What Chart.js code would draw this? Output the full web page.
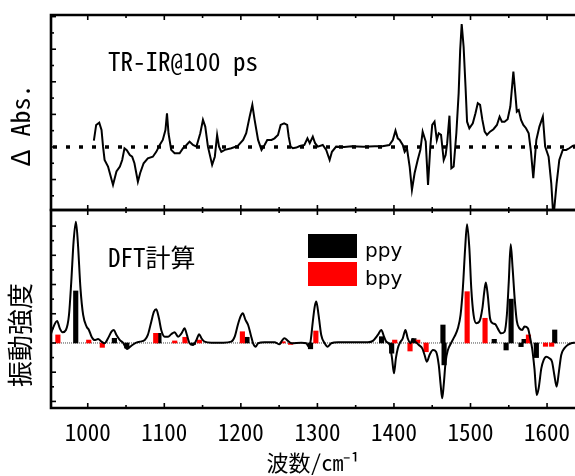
<!DOCTYPE html>
<html><head><meta charset="utf-8">
<script src="https://cdn.jsdelivr.net/npm/chart.js@4.4.1/dist/chart.umd.min.js"></script>
<style>
html,body{margin:0;padding:0;background:#fff;}
#wrap{position:relative;width:575px;height:476px;overflow:hidden;background:#fff;}
#c1{position:absolute;left:0;top:0;}
#c2{position:absolute;left:0;top:208px;}
</style></head><body>
<div id="wrap"><canvas id="c1" width="575" height="212"></canvas><canvas id="c2" width="575" height="268"></canvas></div>
<script>
// ---------- data ----------
const wavenumberTicks = [1000, 1100, 1200, 1300, 1400, 1500, 1600];
const wavenumberMinorTicks = [1050, 1150, 1250, 1350, 1450, 1550];
const absMajorTicks = [-2, 0, 2, 4, 6, 8];
const absMinorTicks = [-3, -1, 1, 3, 5, 7];
const intMajorTicks = [-4, -2, 0, 2, 4, 6, 8];
const intMinorTicks = [-3, -1, 1, 3, 5, 7];

// TR-IR @ 100 ps (experimental difference spectrum)
const trirX = [1008,1011,1015,1018,1020,1022,1026.5,1029.5,1033,1037.5,1042,1045,1048,1051,1055,1058,1061,1065.5,1068.5,1073,1078.5,1085,1089.5,1094,1098,1101.5,1103.5,1105.5,1109,1113.5,1120,1124.5,1129,1133,1137.5,1142,1147,1150.5,1153.5,1157,1162.5,1166,1169,1171.5,1174.5,1179,1187.5,1196,1203,1207,1211.5,1215,1218,1222.5,1227,1231,1234.5,1240,1244,1248.5,1252,1256.5,1260.5,1262.5,1265,1268,1272.5,1277,1283,1287,1290,1294,1297,1300.5,1307,1311.5,1316,1319,1324.5,1335,1345,1360,1375,1385,1394,1398.5,1402,1405,1407.5,1411.5,1414,1417,1420.5,1423.5,1427,1431,1434.5,1437.5,1441.5,1444.5,1447.5,1450,1453,1456,1458.5,1461.5,1465,1467.5,1469.5,1472.5,1475,1478,1481.5,1484.5,1486.5,1488.5,1491,1493.5,1495.5,1498.5,1503,1506.5,1509.5,1512.5,1515.5,1518.5,1521.5,1525.5,1530,1534.5,1538,1541,1544.5,1548.5,1552,1556,1558.5,1560.5,1563,1566,1569,1572.5,1576,1579,1582,1586,1590,1594.5,1597.5,1602,1605.5,1607.5,1609.5,1612.5,1616,1620.5,1625,1629,1633.5,1636.5];
const trirY = [0.39,1.35,1.49,1.04,0.02,-0.80,-1.20,-1.72,-2.33,-1.50,-1.20,-0.80,-0.08,-0.20,-0.50,-0.60,-1.00,-2.13,-1.60,-1.00,-0.70,-0.60,-0.30,0.12,0.43,1.04,2.07,0.84,-0.18,-0.39,-0.39,-0.08,0.12,0.33,0.12,0.02,0.84,1.66,1.25,0.02,-1.10,-0.60,0.74,0.02,-0.30,-0.18,-0.08,0.06,0.43,0.84,1.86,2.58,1.66,0.43,-0.18,0.12,0.43,0.43,0.53,0.74,1.35,1.45,1.35,0.63,0.02,-0.08,-0.04,0.06,0.12,0.53,0.23,0.63,0.23,0.02,0.12,-0.18,-0.80,-0.30,0.02,0.00,0.05,0.02,0.05,0.05,0.12,0.43,1.00,0.53,0.43,0.12,-0.30,-0.08,-1.20,-2.64,-1.60,-0.80,-0.18,0.94,0.33,-2.33,0.02,1.35,1.55,0.43,0.84,0.74,-0.80,-0.50,0.23,1.92,-1.31,-1.20,0.84,3.29,5.95,7.55,6.15,3.70,1.55,1.15,1.45,2.07,2.68,2.58,1.66,0.94,0.74,0.94,1.09,1.35,1.86,1.55,1.55,1.70,2.47,4.62,3.29,2.17,2.27,1.66,1.35,1.15,0.84,-0.30,-1.92,0.43,1.25,1.86,0.02,-0.60,-2.23,-3.76,-3.76,-2.23,-0.80,-0.18,-0.18,-0.08,0.06,0.10];

// DFT calculated spectrum (broadened)
const dftX = [950,954.5,960,963.5,967,971.5,975.5,978.5,981.5,984.5,987,990.5,994,998.5,1001.5,1005,1009,1013.5,1018,1022,1026.5,1031,1034,1037.5,1042,1046,1051.5,1055.5,1061.5,1068,1074.5,1078.5,1083,1086.5,1089.5,1093,1096,1100.5,1105,1109,1113.5,1118,1122.5,1126.5,1129.5,1133,1137.5,1142,1145.5,1148.5,1152.5,1161.5,1177,1187.5,1192,1196,1199.5,1202.5,1206,1209.5,1213,1216,1219.5,1222.5,1231,1244,1250.5,1253.5,1257,1261.5,1266,1279,1285.5,1288.5,1291,1294,1296.5,1298.5,1301.5,1305,1309.5,1313.5,1318,1327,1366,1372.5,1379,1383.5,1387,1390,1394.5,1397.5,1400,1402.5,1405,1407.5,1411.5,1415,1418,1421.5,1424.5,1428,1432.5,1437,1440,1443,1446.5,1451,1455,1458.5,1461,1463,1465,1467.5,1470.5,1474.5,1479,1483.5,1487,1490,1493,1495.5,1498.5,1501,1504,1507.5,1511.5,1515.5,1518,1520,1522.5,1525.5,1529,1532.5,1535.5,1540,1544.5,1547.5,1550,1552.5,1555,1558,1560.5,1564,1567.5,1570.5,1575,1578,1580.5,1583.5,1586.5,1589,1592.5,1595.5,1599,1603,1606.5,1609.5,1612.5,1615.5,1618.5,1622.5,1627,1631.5,1636.5];
const dftY = [0.32,1.00,1.50,1.00,0.73,0.89,1.92,4.20,6.94,8.30,6.94,3.74,1.92,1.12,0.89,0.43,0.20,0.27,0.09,-0.02,0.32,0.77,0.89,0.55,0.20,0.02,-0.41,-0.25,-0.02,0.09,0.20,0.55,1.46,2.14,2.30,1.69,0.89,0.43,0.43,0.60,0.73,0.43,0.66,1.00,0.55,-0.02,-0.14,0.20,0.60,0.32,0.09,0.02,0.02,0.09,0.43,1.23,1.80,2.03,1.58,1.23,0.55,-0.02,-0.25,-0.02,0.05,0.05,-0.09,0.14,0.32,0.14,-0.02,0.02,-0.02,-0.25,0.09,1.46,2.49,2.83,1.92,0.55,-0.02,-0.25,-0.02,0.05,0.05,0.14,0.55,0.89,0.43,0.09,-0.14,-1.05,-2.08,-1.05,-0.37,-0.02,0.32,0.89,0.32,-0.02,0.27,0.09,-0.14,-0.37,-0.82,-1.28,-0.82,-0.48,-0.60,-1.50,-2.87,-3.79,-2.87,-1.28,-0.48,-0.02,0.43,1.00,1.92,3.74,6.48,8.13,6.48,3.74,1.92,1.35,1.46,2.37,3.51,4.13,3.29,1.69,1.35,1.28,1.00,0.66,0.77,1.92,4.20,6.76,5.12,2.83,1.50,1.00,0.89,1.12,1.00,0.32,-0.37,-1.74,-3.56,-3.10,-1.74,-1.17,-0.94,-1.05,-1.28,-2.19,-2.99,-1.96,-0.82,-0.37,-0.14,-0.02,0.02];

// DFT stick intensities
const ppyX = [984.3,1034.8,1051,1093,1138,1208,1291,1383.8,1397,1426,1464,1465.5,1531,1546.5,1553,1566,1570,1586,1610];
const ppyY = [3.56,0.32,-0.35,0.66,-0.10,0.39,-0.40,0.43,-0.70,0.30,1.23,-1.50,0.25,-0.48,3.00,-0.25,0.25,-1.00,0.89];
const bpyX = [961,1001.3,1019,1088.8,1113.6,1127,1145.8,1202,1255,1265,1298,1401,1421,1431,1442,1495.6,1519,1575.7,1598,1606];
const bpyY = [0.55,0.20,-0.30,0.66,0.14,0.39,0.20,0.77,0.09,-0.10,0.82,0.20,-0.55,0.20,-0.60,3.51,1.69,0.55,-0.23,-0.23];

const seriesNames = ['ppy', 'bpy'];

// ---------- styling / layout ----------
const X_MIN = 952, X_MAX = 1636.5;
const FONT = '"Noto Sans Mono CJK JP", "Liberation Sans Narrow", "Noto Sans CJK JP", sans-serif';
Chart.defaults.color = '#000';
Chart.defaults.font.family = FONT;

function framePlugin(cfg) {
  return {
    id: 'frame_' + cfg.name,
    beforeDatasetsDraw(chart) {
      const { ctx, chartArea: a, scales: { y } } = chart;
      const y0 = y.getPixelForValue(0);
      ctx.save();
      ctx.beginPath(); ctx.rect(a.left, a.top, a.right - a.left, a.bottom - a.top); ctx.clip();
      ctx.strokeStyle = cfg.zeroColor; ctx.lineWidth = cfg.zeroWidth;
      ctx.setLineDash(cfg.zeroDash);
      ctx.beginPath(); ctx.moveTo(a.left + 2, y0); ctx.lineTo(a.right, y0); ctx.stroke();
      ctx.restore();
    },
    afterDatasetsDraw(chart) {
      const { ctx, chartArea: a, scales: { x, y } } = chart;
      ctx.save();
      ctx.strokeStyle = '#000';
      ctx.lineWidth = 1.6;
      const tick = (x1, y1, x2, y2) => { ctx.beginPath(); ctx.moveTo(x1, y1); ctx.lineTo(x2, y2); ctx.stroke(); };
      wavenumberTicks.forEach(v => { const p = x.getPixelForValue(v); tick(p, a.top, p, a.top + 5); tick(p, a.bottom, p, a.bottom - 5); });
      wavenumberMinorTicks.forEach(v => { const p = x.getPixelForValue(v); tick(p, a.top, p, a.top + 3); tick(p, a.bottom, p, a.bottom - 3); });
      cfg.yMajor.forEach(v => { const p = y.getPixelForValue(v); tick(a.left, p, a.left + 5, p); });
      cfg.yMinor.forEach(v => { const p = y.getPixelForValue(v); tick(a.left, p, a.left + 3, p); });
      ctx.lineWidth = 2.6;
      ctx.beginPath();
      ctx.moveTo(a.right + 2, a.top); ctx.lineTo(a.left, a.top); ctx.lineTo(a.left, a.bottom); ctx.lineTo(a.right + 2, a.bottom);
      ctx.stroke();
      ctx.restore();
    },
    afterDraw(chart) {
      const { ctx } = chart;
      ctx.save();
      ctx.fillStyle = '#000';
      ctx.textBaseline = 'alphabetic';
      ctx.textAlign = 'left';
      ctx.font = '25px ' + FONT;
      ctx.fillText(cfg.label, cfg.labelX, cfg.labelY);
      if (cfg.legend) {
        const ds = chart.data.datasets.filter(d => d.type === 'bar');
        ds.forEach((d, i) => {
          const top = cfg.legend.y + i * cfg.legend.step;
          ctx.fillStyle = d.backgroundColor;
          ctx.fillRect(cfg.legend.x, top, cfg.legend.w, cfg.legend.h);
          ctx.fillStyle = '#000';
          ctx.font = '20px "DejaVu Sans", sans-serif';
          ctx.fillText(d.label, cfg.legend.x + cfg.legend.w + 8, top + cfg.legend.h - 1);
        });
      }
      ctx.restore();
    }
  };
}

const yTitle = (text) => ({ display: true, text, font: { family: FONT, size: 26 }, padding: { top: 5, bottom: 0 } });

// ---------- top panel: TR-IR ----------
new Chart(document.getElementById('c1'), {
  type: 'line',
  data: { datasets: [{
    label: 'TR-IR@100 ps',
    data: trirX.map((v, i) => ({ x: v, y: trirY[i] })),
    borderColor: '#000', borderWidth: 2, pointRadius: 0, tension: 0, fill: false
  }] },
  options: {
    responsive: false, animation: false, devicePixelRatio: 1,
    layout: { padding: { top: 15, left: 0, right: 0, bottom: 2 } },
    plugins: { legend: { display: false }, tooltip: { enabled: false } },
    scales: {
      x: { type: 'linear', min: X_MIN, max: X_MAX, display: false, offset: false },
      y: { min: -3.87, max: 8.1, grid: { display: false }, border: { display: false },
           ticks: { display: false }, title: yTitle('Δ Abs.\u3000'),
           afterFit(s) { s.width = 51; } }
    }
  },
  plugins: [framePlugin({ name: 'top', yMajor: absMajorTicks, yMinor: absMinorTicks,
    zeroColor: '#000', zeroWidth: 3.5, zeroDash: [4, 9],
    label: 'TR-IR@100 ps', labelX: 108, labelY: 71 })]
});

// ---------- bottom panel: DFT ----------
new Chart(document.getElementById('c2'), {
  data: { datasets: [
    { type: 'line', label: 'DFT', order: 0,
      data: dftX.map((v, i) => ({ x: v, y: dftY[i] })),
      borderColor: '#000', borderWidth: 2, pointRadius: 0, cubicInterpolationMode: 'monotone', fill: false },
    { type: 'bar', label: seriesNames[0], order: 2,
      data: ppyX.map((v, i) => ({ x: v, y: ppyY[i] })),
      backgroundColor: '#000', barThickness: 4.5, grouped: false },
    { type: 'bar', label: seriesNames[1], order: 1,
      data: bpyX.map((v, i) => ({ x: v, y: bpyY[i] })),
      backgroundColor: '#ff0000', barThickness: 4.5, grouped: false }
  ] },
  options: {
    responsive: false, animation: false, devicePixelRatio: 1,
    layout: { padding: { top: 2, left: 0, right: 0, bottom: 0 } },
    plugins: { legend: { display: false }, tooltip: { enabled: false } },
    scales: {
      x: { type: 'linear', min: X_MIN, max: X_MAX, offset: false,
           grid: { display: false, drawTicks: false }, border: { display: false },
           afterBuildTicks(s) { s.ticks = wavenumberTicks.map(v => ({ value: v })); },
           ticks: { font: { family: FONT, size: 23 }, padding: 10, maxRotation: 0, autoSkip: false, callback: v => String(v) },
           title: { display: true, text: '波数/cm⁻¹', font: { family: FONT, size: 22 }, padding: { top: 0, bottom: 0 } },
           afterFit(s) { s.height = 68; s.paddingLeft = 0; s.paddingRight = 0; } },
      y: { min: -4.45, max: 9.1, grid: { display: false }, border: { display: false },
           ticks: { display: false }, title: yTitle('振動強度\u3000\u3000'),
           afterFit(s) { s.width = 51; } }
    }
  },
  plugins: [framePlugin({ name: 'bot', yMajor: intMajorTicks, yMinor: intMinorTicks,
    zeroColor: '#444', zeroWidth: 1, zeroDash: [1, 1],
    label: 'DFT計算', labelX: 108, labelY: 59,
    legend: { x: 308, y: 26, w: 49, h: 24, step: 28 } })]
});
</script>
</body></html>
